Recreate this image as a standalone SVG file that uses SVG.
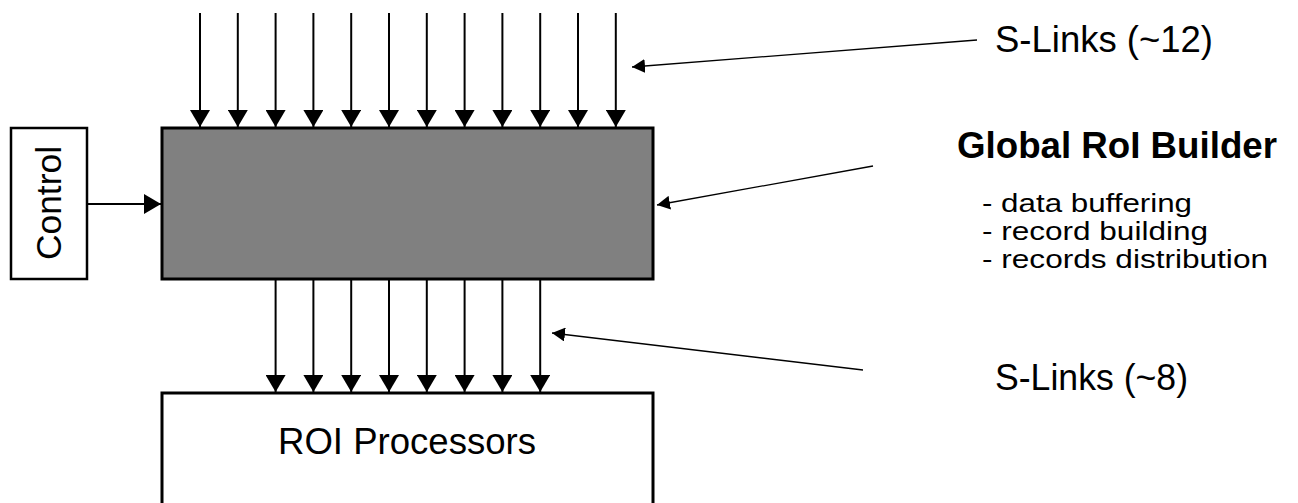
<svg xmlns="http://www.w3.org/2000/svg" width="1298" height="503" viewBox="0 0 1298 503">
<style>
.t{font-family:"Liberation Sans",Arial,sans-serif;fill:#000}
.b{font-size:25px}
.box{stroke:#000;stroke-width:3}
.ln{stroke:#000;stroke-width:2;fill:none}
.thin{stroke:#000;stroke-width:1.3;fill:none}
</style>
<defs>
<marker id="ah" markerUnits="userSpaceOnUse" markerWidth="20" markerHeight="20" refX="17" refY="10" orient="auto" viewBox="0 0 20 20">
<path d="M0,0 L17,10 L0,20 Z" fill="#000"/>
</marker>
<marker id="sh" markerUnits="userSpaceOnUse" markerWidth="14" markerHeight="14" refX="13" refY="7" orient="auto" viewBox="0 0 14 14">
<path d="M0,0 L13,7 L0,14 Z" fill="#000"/>
</marker>
</defs>
<rect width="1298" height="503" fill="#fff"/>
<g id="control">
<rect x="11" y="128" width="76" height="151" fill="#fff" stroke="#000" stroke-width="2.5"/>
<text class="t" transform="translate(61,203) rotate(-90)" x="0" y="0" font-size="35" text-anchor="middle" textLength="114" lengthAdjust="spacingAndGlyphs">Control</text>
</g>
<g id="builder">
<rect class="box" x="162" y="128" width="491" height="151" fill="#808080"/>
</g>
<g id="roi">
<rect class="box" x="162" y="393" width="491" height="130" fill="#fff"/>
<text class="t" x="278" y="454" font-size="36" textLength="258" lengthAdjust="spacingAndGlyphs">ROI Processors</text>
</g>
<g id="labels">
<text class="t" x="995" y="52" font-size="36" textLength="218" lengthAdjust="spacingAndGlyphs">S-Links (~12)</text>
<text class="t" x="957" y="158" font-size="36" font-weight="bold" textLength="320" lengthAdjust="spacingAndGlyphs">Global RoI Builder</text>
<text class="t b" x="982" y="212" textLength="210" lengthAdjust="spacingAndGlyphs">- data buffering</text>
<text class="t b" x="982" y="240" textLength="226" lengthAdjust="spacingAndGlyphs">- record building</text>
<text class="t b" x="982" y="268" textLength="286" lengthAdjust="spacingAndGlyphs">- records distribution</text>
<text class="t" x="995" y="390" font-size="36" textLength="193" lengthAdjust="spacingAndGlyphs">S-Links (~8)</text>
</g>
<g id="connectors">
<line class="ln" x1="200" y1="13" x2="200" y2="127" marker-end="url(#ah)"/>
<line class="ln" x1="237.8" y1="13" x2="237.8" y2="127" marker-end="url(#ah)"/>
<line class="ln" x1="275.6" y1="13" x2="275.6" y2="127" marker-end="url(#ah)"/>
<line class="ln" x1="313.4" y1="13" x2="313.4" y2="127" marker-end="url(#ah)"/>
<line class="ln" x1="351.2" y1="13" x2="351.2" y2="127" marker-end="url(#ah)"/>
<line class="ln" x1="389" y1="13" x2="389" y2="127" marker-end="url(#ah)"/>
<line class="ln" x1="426.8" y1="13" x2="426.8" y2="127" marker-end="url(#ah)"/>
<line class="ln" x1="464.6" y1="13" x2="464.6" y2="127" marker-end="url(#ah)"/>
<line class="ln" x1="502.4" y1="13" x2="502.4" y2="127" marker-end="url(#ah)"/>
<line class="ln" x1="540.2" y1="13" x2="540.2" y2="127" marker-end="url(#ah)"/>
<line class="ln" x1="578" y1="13" x2="578" y2="127" marker-end="url(#ah)"/>
<line class="ln" x1="615.8" y1="13" x2="615.8" y2="127" marker-end="url(#ah)"/>
<line class="ln" x1="275.6" y1="280" x2="275.6" y2="392" marker-end="url(#ah)"/>
<line class="ln" x1="313.4" y1="280" x2="313.4" y2="392" marker-end="url(#ah)"/>
<line class="ln" x1="351.2" y1="280" x2="351.2" y2="392" marker-end="url(#ah)"/>
<line class="ln" x1="389" y1="280" x2="389" y2="392" marker-end="url(#ah)"/>
<line class="ln" x1="426.8" y1="280" x2="426.8" y2="392" marker-end="url(#ah)"/>
<line class="ln" x1="464.6" y1="280" x2="464.6" y2="392" marker-end="url(#ah)"/>
<line class="ln" x1="502.4" y1="280" x2="502.4" y2="392" marker-end="url(#ah)"/>
<line class="ln" x1="540.2" y1="280" x2="540.2" y2="392" marker-end="url(#ah)"/>
<line class="ln" x1="88" y1="204" x2="161" y2="204" marker-end="url(#ah)"/>
<line class="thin" x1="977" y1="40" x2="632" y2="67" marker-end="url(#sh)"/>
<line class="thin" x1="873" y1="166" x2="657" y2="205" marker-end="url(#sh)"/>
<line class="thin" x1="863" y1="370" x2="552" y2="333" marker-end="url(#sh)"/>
</g>
</svg>
